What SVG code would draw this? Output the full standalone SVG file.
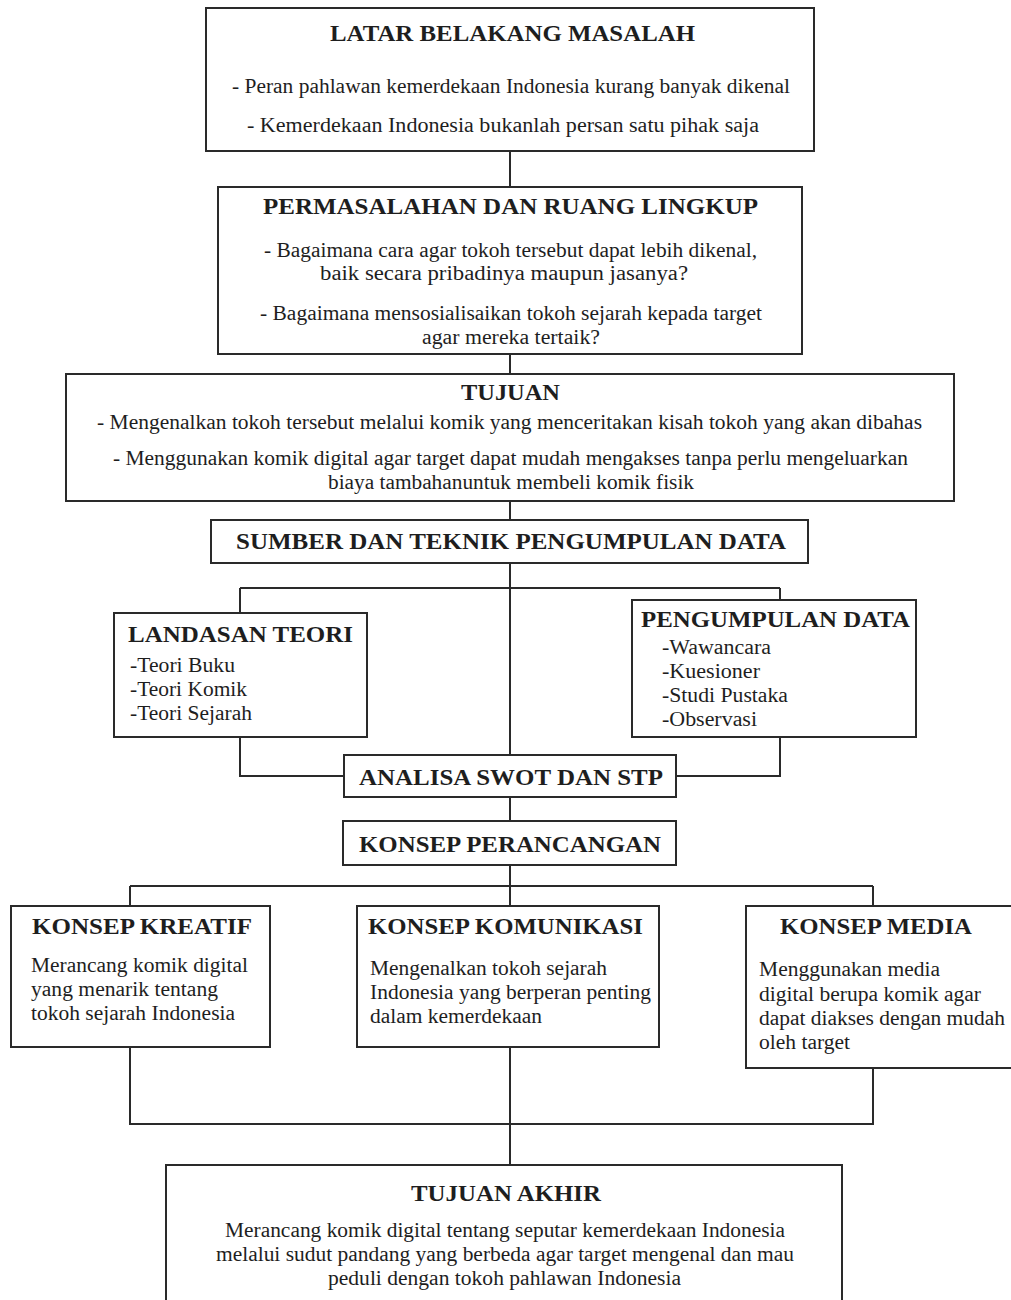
<svg xmlns="http://www.w3.org/2000/svg" width="1011" height="1300" viewBox="0 0 1011 1300">
<style>
.box{fill:#fff;stroke:#2a2a2a;stroke-width:2}
.ln{fill:none;stroke:#2a2a2a;stroke-width:2}
.t{font-family:"Liberation Serif","Times New Roman",serif;font-weight:bold;font-size:23px;fill:#1e1e1e}
.b{font-family:"Liberation Serif","Times New Roman",serif;font-size:20.5px;fill:#1e1e1e}
</style>
<rect width="1011" height="1300" fill="#fff"/>
<g id="connectors">
<path class="ln" d="M510 151V187M510 354V374M510 501V520M510 563V757M240 588H780M240 588V613M780 588V600M240 737V776H344M780 737V776H676M510 797V821M510 865V906M130 886H873M130 886V906M873 886V906M130 1047V1124H873V1068M510 1047V1165"/>
</g>
<g id="latar">
<rect class="box" x="206" y="8" width="608" height="143"/>
<text class="t" x="330" y="41" textLength="365" lengthAdjust="spacingAndGlyphs">LATAR BELAKANG MASALAH</text>
<text class="b" x="232" y="93" textLength="558" lengthAdjust="spacingAndGlyphs">- Peran pahlawan kemerdekaan Indonesia kurang banyak dikenal</text>
<text class="b" x="247" y="132" textLength="512" lengthAdjust="spacingAndGlyphs">- Kemerdekaan Indonesia bukanlah persan satu pihak saja</text>
</g>
<g id="permasalahan">
<rect class="box" x="218" y="187" width="584" height="167"/>
<text class="t" x="263" y="214" textLength="495" lengthAdjust="spacingAndGlyphs">PERMASALAHAN DAN RUANG LINGKUP</text>
<text class="b" x="264" y="257" textLength="493" lengthAdjust="spacingAndGlyphs">- Bagaimana cara agar tokoh tersebut dapat lebih dikenal,</text>
<text class="b" x="320" y="280" textLength="368" lengthAdjust="spacingAndGlyphs">baik secara pribadinya maupun jasanya?</text>
<text class="b" x="260" y="320" textLength="502" lengthAdjust="spacingAndGlyphs">- Bagaimana mensosialisaikan tokoh sejarah kepada target</text>
<text class="b" x="422" y="344" textLength="178" lengthAdjust="spacingAndGlyphs">agar mereka tertaik?</text>
</g>
<g id="tujuan">
<rect class="box" x="66" y="374" width="888" height="127"/>
<text class="t" x="461" y="400" textLength="99" lengthAdjust="spacingAndGlyphs">TUJUAN</text>
<text class="b" x="97" y="429" textLength="825" lengthAdjust="spacingAndGlyphs">- Mengenalkan tokoh tersebut melalui komik yang menceritakan kisah tokoh yang akan dibahas</text>
<text class="b" x="113" y="465" textLength="795" lengthAdjust="spacingAndGlyphs">- Menggunakan komik digital agar target dapat mudah mengakses tanpa perlu mengeluarkan</text>
<text class="b" x="328" y="489" textLength="366" lengthAdjust="spacingAndGlyphs">biaya tambahanuntuk membeli komik fisik</text>
</g>
<g id="sumber">
<rect class="box" x="211" y="520" width="597" height="43"/>
<text class="t" x="236" y="549" textLength="550" lengthAdjust="spacingAndGlyphs">SUMBER DAN TEKNIK PENGUMPULAN DATA</text>
</g>
<g id="landasan">
<rect class="box" x="114" y="613" width="253" height="124"/>
<text class="t" x="128" y="642" textLength="225" lengthAdjust="spacingAndGlyphs">LANDASAN TEORI</text>
<text class="b" x="130" y="672" textLength="105" lengthAdjust="spacingAndGlyphs">-Teori Buku</text>
<text class="b" x="130" y="696" textLength="117" lengthAdjust="spacingAndGlyphs">-Teori Komik</text>
<text class="b" x="130" y="720" textLength="122" lengthAdjust="spacingAndGlyphs">-Teori Sejarah</text>
</g>
<g id="pengumpulan">
<rect class="box" x="632" y="600" width="284" height="137"/>
<text class="t" x="641" y="627" textLength="269" lengthAdjust="spacingAndGlyphs">PENGUMPULAN DATA</text>
<text class="b" x="662" y="654" textLength="109" lengthAdjust="spacingAndGlyphs">-Wawancara</text>
<text class="b" x="662" y="678" textLength="98" lengthAdjust="spacingAndGlyphs">-Kuesioner</text>
<text class="b" x="662" y="702" textLength="126" lengthAdjust="spacingAndGlyphs">-Studi Pustaka</text>
<text class="b" x="662" y="726" textLength="95" lengthAdjust="spacingAndGlyphs">-Observasi</text>
</g>
<g id="swot">
<rect class="box" x="344" y="755" width="332" height="42"/>
<text class="t" x="359" y="785" textLength="304" lengthAdjust="spacingAndGlyphs">ANALISA SWOT DAN STP</text>
</g>
<g id="perancangan">
<rect class="box" x="343" y="821" width="333" height="44"/>
<text class="t" x="359" y="852" textLength="302" lengthAdjust="spacingAndGlyphs">KONSEP PERANCANGAN</text>
</g>
<g id="kreatif">
<rect class="box" x="11" y="906" width="259" height="141"/>
<text class="t" x="32" y="934" textLength="220" lengthAdjust="spacingAndGlyphs">KONSEP KREATIF</text>
<text class="b" x="31" y="972" textLength="217" lengthAdjust="spacingAndGlyphs">Merancang komik digital</text>
<text class="b" x="31" y="996" textLength="187" lengthAdjust="spacingAndGlyphs">yang menarik tentang</text>
<text class="b" x="31" y="1020" textLength="204" lengthAdjust="spacingAndGlyphs">tokoh sejarah Indonesia</text>
</g>
<g id="komunikasi">
<rect class="box" x="357" y="906" width="302" height="141"/>
<text class="t" x="368" y="934" textLength="275" lengthAdjust="spacingAndGlyphs">KONSEP KOMUNIKASI</text>
<text class="b" x="370" y="975" textLength="237" lengthAdjust="spacingAndGlyphs">Mengenalkan tokoh sejarah</text>
<text class="b" x="370" y="999" textLength="281" lengthAdjust="spacingAndGlyphs">Indonesia yang berperan penting</text>
<text class="b" x="370" y="1023" textLength="172" lengthAdjust="spacingAndGlyphs">dalam kemerdekaan</text>
</g>
<g id="media">
<rect class="box" x="746" y="906" width="275" height="162"/>
<text class="t" x="780" y="934" textLength="192" lengthAdjust="spacingAndGlyphs">KONSEP MEDIA</text>
<text class="b" x="759" y="976" textLength="181" lengthAdjust="spacingAndGlyphs">Menggunakan media</text>
<text class="b" x="759" y="1001" textLength="222" lengthAdjust="spacingAndGlyphs">digital berupa komik agar</text>
<text class="b" x="759" y="1025" textLength="246" lengthAdjust="spacingAndGlyphs">dapat diakses dengan mudah</text>
<text class="b" x="759" y="1049" textLength="91" lengthAdjust="spacingAndGlyphs">oleh target</text>
</g>
<g id="akhir">
<rect class="box" x="166" y="1165" width="676" height="150"/>
<text class="t" x="411" y="1201" textLength="190" lengthAdjust="spacingAndGlyphs">TUJUAN AKHIR</text>
<text class="b" x="225" y="1237" textLength="560" lengthAdjust="spacingAndGlyphs">Merancang komik digital tentang seputar kemerdekaan Indonesia</text>
<text class="b" x="216" y="1261" textLength="578" lengthAdjust="spacingAndGlyphs">melalui sudut pandang yang berbeda agar target mengenal dan mau</text>
<text class="b" x="328" y="1285" textLength="353" lengthAdjust="spacingAndGlyphs">peduli dengan tokoh pahlawan Indonesia</text>
</g>
</svg>
